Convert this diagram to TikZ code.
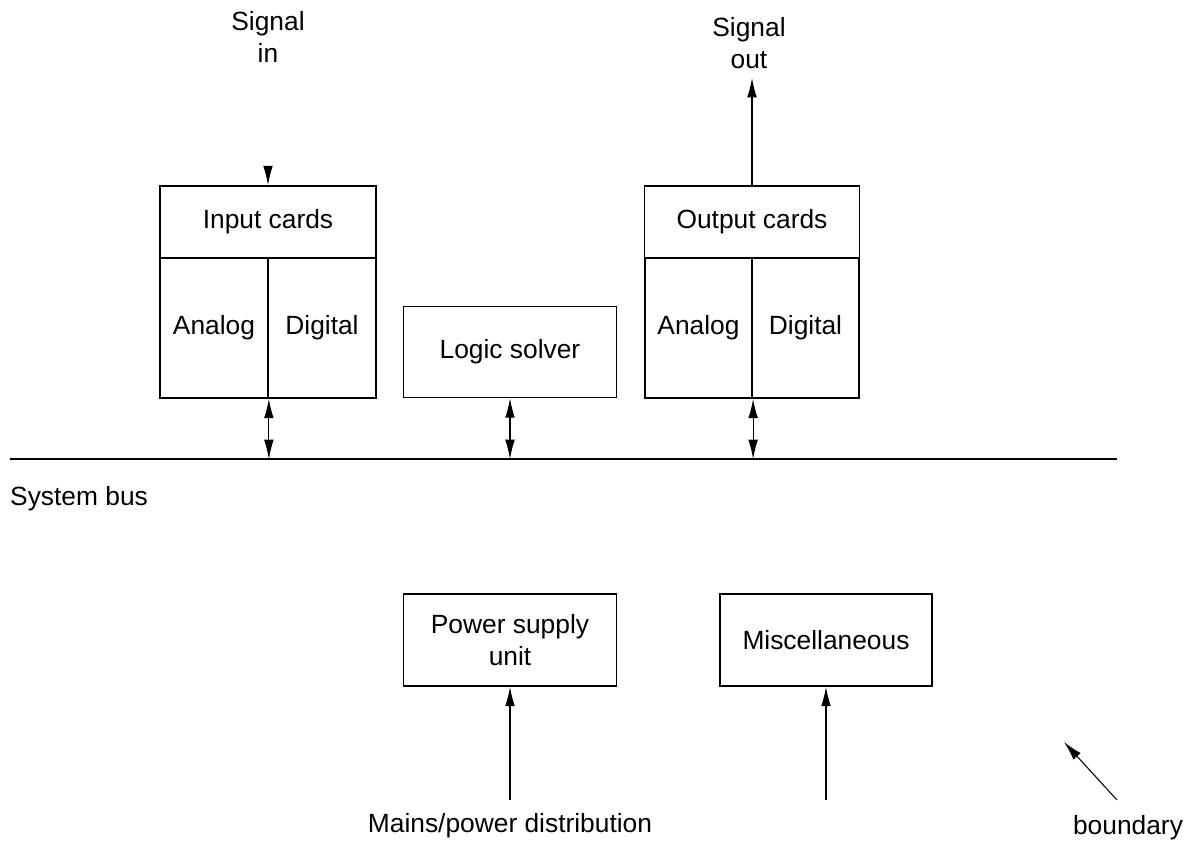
\documentclass[tikz,border=0pt]{standalone}
\usepackage{fontspec}
\setmainfont{Liberation Sans}
\usetikzlibrary{arrows.meta}
\tikzset{
    card/.style={draw, line width=1pt, inner sep=0pt, minimum width=#1},
    arr/.style={-{Latex[length=11pt,width=5.5pt]}, line width=0.6pt},
    darr/.style={{Latex[length=11pt,width=5.5pt]}-{Latex[length=11pt,width=5.5pt]}, line width=0.6pt},
}

\begin{document}
\begin{tikzpicture}[x=0.02cm, y=-0.02cm, font=\fontsize{15}{18.5}\selectfont]
\useasboundingbox (0,0) rectangle (1191,842);
% input side
\node[card=4.32cm, minimum height=1.44cm] (incards) at (268,222) {Input cards};
\node[card=2.16cm, minimum height=2.8cm] (inana) at (214,328) {Analog};
\node[card=2.16cm, minimum height=2.8cm] (indig) at (322,328) {Digital};
\node[align=center] (sigin) at (268,37) {Signal\\in};
\coordinate (sinstart) at (268,166);
\draw[arr] (sinstart) -- (incards.north);

% logic solver
\node[card=4.26cm, minimum height=1.82cm] (logic) at (510,352) {Logic solver};

% output side
\node[card=4.3cm, minimum height=1.44cm] (outcards) at (752,222) {Output cards};
\node[card=2.15cm, minimum height=2.8cm] (outana) at (698.5,328) {Analog};
\node[card=2.15cm, minimum height=2.8cm] (outdig) at (805.5,328) {Digital};
\node[align=center] (sigout) at (749,43) {Signal\\out};
\coordinate (soutend) at (752,78);
\draw[arr] (outcards.north) -- (soutend);

% system bus
\coordinate (busl) at (10,459);
\coordinate (busr) at (1117,459);
\draw[line width=1pt] (busl) -- (busr);
\node[anchor=west] (busname) at (4,499) {System bus};
\draw[darr] (inana.south east) -- (inana.south east |- busl);
\draw[darr] (logic.south) -- (logic.south |- busl);
\draw[darr] (outana.south east) -- (outana.south east |- busl);

% lower units
\node[card=4.26cm, minimum height=1.84cm, align=center] (psu) at (510,640) {Power supply\\unit};
\node[card=4.24cm, minimum height=1.84cm] (misc) at (826,640) {Miscellaneous};
\coordinate (psuin) at (510,800);
\coordinate (miscin) at (826,800);
\draw[arr] (psuin) -- (psu.south);
\draw[arr] (miscin) -- (misc.south);
\node (mains) at (510,826) {Mains/power distribution};

% boundary
\node (bnd) at (1128,828) {boundary};
\coordinate (bndtail) at (1117,800);
\coordinate (bndtip) at (1064,742);
\draw[arr] (bndtail) -- (bndtip);
\end{tikzpicture}
\end{document}
